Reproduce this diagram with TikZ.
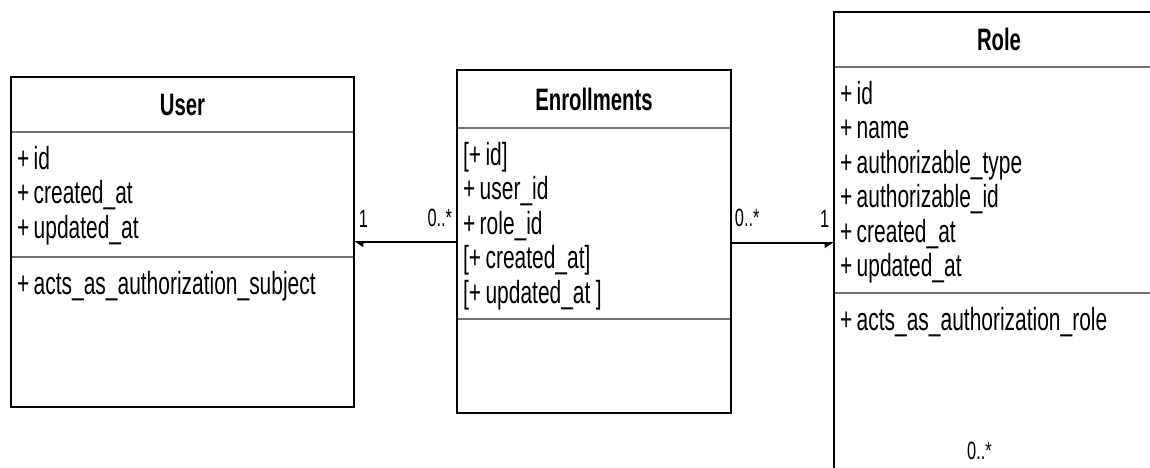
\documentclass[tikz,border=0pt]{standalone}
\usepackage{fontspec}
\newfontfamily\umlfont[FakeStretch=0.655]{Liberation Sans}
\usetikzlibrary{arrows.meta,positioning,fit}
\tikzset{%
  classpart/.style={draw=black!55, line width=1.5pt, outer sep=0pt, inner xsep=6pt, inner ysep=0pt, font=\umlfont\fontsize{32}{34.5}\selectfont},
  classhead/.style={classpart, font=\umlfont\bfseries\fontsize{31}{34.5}\selectfont},
  classframe/.style={draw, line width=1.8pt, inner sep=0pt},
  assoc/.style={draw, line width=1.8pt},
  mult/.style={font=\umlfont\fontsize{25}{28}\selectfont, inner sep=0pt},
}
\newcommand{\members}[2]{\vbox to #1{\parindent=0pt\vskip 14pt #2\vfill}}
\newcommand{\pl}{+\kern4.5pt}

\begin{document}
\begin{tikzpicture}
  \useasboundingbox (0,0) rectangle (1150pt,-467pt);
  \clip (0,0) rectangle (1150pt,-467pt);

  % User
  \node[classhead, minimum width=343pt, minimum height=55pt, anchor=north west] (user) at (11pt,-77pt) {User};
  \node[classpart, text width=331pt, below=0pt of user] (user-a) {\members{125pt}{\pl id\par \pl created\_at\par \pl updated\_at}};
  \node[classpart, text width=331pt, below=0pt of user-a] (user-m) {\members{150pt}{\pl acts\_as\_authorization\_subject}};

  % Enrollments
  \node[classhead, minimum width=274pt, minimum height=58pt, anchor=north west] (enr) at (457pt,-70pt) {Enrollments};
  \node[classpart, text width=262pt, below=0pt of enr] (enr-a) {\members{191pt}{[\pl id]\par \pl user\_id\par \pl role\_id\par [\pl created\_at]\par [\pl updated\_at\,]}};
  \node[classpart, text width=262pt, below=0pt of enr-a] (enr-m) {\members{94pt}{}};

  % Role
  \node[classhead, minimum width=330pt, minimum height=55pt, anchor=north west] (role) at (834pt,-12pt) {Role};
  \node[classpart, text width=318pt, below=0pt of role] (role-a) {\members{226pt}{\pl id\par \pl name\par \pl authorizable\_type\par \pl authorizable\_id\par \pl created\_at\par \pl updated\_at}};
  \node[classpart, text width=318pt, below=0pt of role-a] (role-m) {\members{200pt}{\pl acts\_as\_authorization\_role}};

  \node[classframe, fit=(user) (user-m)] {};
  \node[classframe, fit=(enr) (enr-m)] {};
  \node[classframe, fit=(role) (role-m)] {};

  % associations
  \coordinate (ulink) at ([yshift=-47.5pt]user-a.east);
  \coordinate (rlink) at ([yshift=-63pt]role-a.west);
  \path[assoc, -{Triangle[length=8pt,width=10pt,left]}] (ulink -| enr-a.west) -- (ulink)
    node[mult, pos=0, anchor=south east, xshift=-4pt, yshift=14pt] {0..*}
    node[mult, pos=1, anchor=south west, xshift=4pt, yshift=14pt] {1};
  \path[assoc, -{Triangle[length=8pt,width=10pt,right]}] (rlink -| enr-a.east) -- (rlink)
    node[mult, pos=0, anchor=south west, xshift=3pt, yshift=15pt] {0..*}
    node[mult, pos=1, anchor=south east, xshift=-4pt, yshift=15pt] {1};

  \node[mult, anchor=south west] (role-mult) at ([xshift=133pt, yshift=-167pt]role-m.north west) {0..*};
\end{tikzpicture}
\end{document}
